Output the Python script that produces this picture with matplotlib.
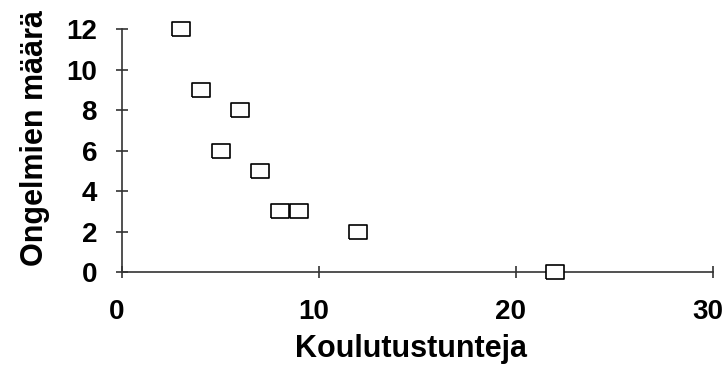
import matplotlib.pyplot as plt
from matplotlib.transforms import ScaledTranslation

plt.rcParams['font.family'] = ['Liberation Sans', 'DejaVu Sans']
plt.rcParams['font.weight'] = 'bold'

# koulutustunnit ja ongelmien määrä
hours = [3, 4, 6, 5, 7, 8, 9, 12, 22]
problems = [12, 9, 8, 6, 5, 3, 3, 2, 0]

x_ticks = [0, 10, 20, 30]
y_ticks = [0, 2, 4, 6, 8, 10, 12]

fig = plt.figure(figsize=(7.25, 3.65), dpi=100)
ax = fig.add_axes([0.1683, 0.2548, 0.8151, 0.6657])

# suorakulmion muotoinen merkki
rect = [(-1.38, -1), (1.38, -1), (1.38, 1), (-1.38, 1), (-1.38, -1)]
ax.plot(hours, problems, linestyle='none', marker=rect, markersize=13.5,
        markerfacecolor='white', markeredgecolor='black', markeredgewidth=1.2,
        clip_on=False, zorder=3)

ax.set_xlim(0, 30)
ax.set_ylim(0, 12)
ax.set_xticks(x_ticks)
ax.set_yticks(y_ticks)

for side in ['top', 'right']:
    ax.spines[side].set_visible(False)
for side in ['left', 'bottom']:
    ax.spines[side].set_color('#333333')
    ax.spines[side].set_linewidth(1.2)

ax.tick_params(direction='inout', length=9, width=1.2, color='#333333',
               labelsize=20)
ax.tick_params(axis='x', pad=15)
ax.tick_params(axis='y', pad=13.5)
# x-akselin luvut hieman vasemmalle kuten alkuperäisessä
shift = ScaledTranslation(-5 / 100, 0, fig.dpi_scale_trans)
for lab in ax.get_xticklabels():
    lab.set_transform(lab.get_transform() + shift)
for lab in ax.get_xticklabels() + ax.get_yticklabels():
    lab.set_fontweight('bold')

ax.set_xlabel('Koulutustunteja', fontsize=22, fontweight='bold')
ax.set_ylabel('Ongelmien määrä', fontsize=22, fontweight='bold')
ax.xaxis.set_label_coords(0.489, -0.254)
ax.yaxis.set_label_coords(-0.1215, 0.551)

fig.savefig('out.png', dpi=100)
